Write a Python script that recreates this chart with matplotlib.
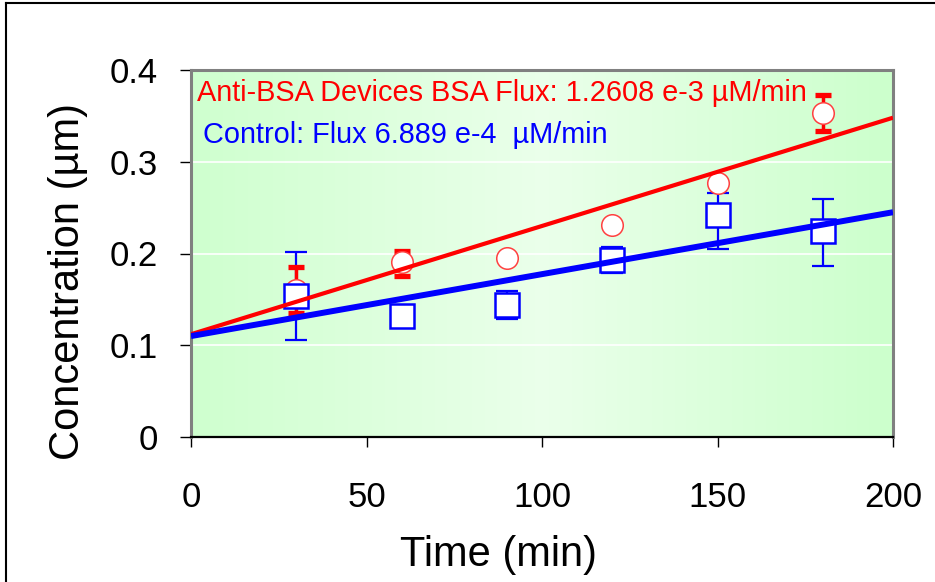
import numpy as np
import matplotlib
matplotlib.use("Agg")
import matplotlib.pyplot as plt
from matplotlib.colors import LinearSegmentedColormap
from matplotlib.lines import Line2D

plt.rcParams['font.family'] = ['Liberation Sans', 'DejaVu Sans']

# values
time = [30, 60, 90, 120, 150, 180]

anti_bsa = [0.160, 0.191, 0.195, 0.231, 0.277, 0.353]
anti_err_lo = [0.025, 0.015, 0.0, 0.0, 0.0, 0.020]
anti_err_hi = [0.025, 0.012, 0.0, 0.0, 0.0, 0.020]

control = [0.154, 0.132, 0.144, 0.193, 0.242, 0.225]
ctrl_err_lo = [0.048, 0.0, 0.015, 0.014, 0.037, 0.039]
ctrl_err_hi = [0.048, 0.0, 0.015, 0.014, 0.024, 0.034]

# trend line end points (x = 0 and x = 200)
trend_x = [0, 200]
anti_trend = [0.112, 0.348]
ctrl_trend = [0.110, 0.245]

x_ticks = [0, 50, 100, 150, 200]
y_ticks = [0, 0.1, 0.2, 0.3, 0.4]
y_tick_labels = ['0', '0.1', '0.2', '0.3', '0.4']

anti_label = 'Anti-BSA Devices BSA Flux: 1.2608 e-3 \u00b5M/min'
ctrl_label = 'Control: Flux 6.889 e-4  \u00b5M/min'

W, H = 935, 582
fig = plt.figure(figsize=(W / 100, H / 100), dpi=100)
ax = fig.add_axes([191 / W, 1 - 437 / H, (893 - 191) / W, (437 - 70) / H])

# green gradient background, lighter in the middle
cmap = LinearSegmentedColormap.from_list(
    'bg', [(0.0, (0.81, 1.0, 0.81)), (0.5, (0.92, 1.0, 0.92)), (1.0, (0.80, 1.0, 0.80))])
ax.imshow(np.linspace(0, 1, 256).reshape(1, -1), cmap=cmap, aspect='auto',
          extent=[0, 200, 0, 0.4], zorder=0, interpolation='bilinear')

for yv in y_ticks[1:-1]:
    ax.axhline(yv, color='white', lw=1.2, zorder=0.5)

# error bars
ax.errorbar(time, control, yerr=[ctrl_err_lo, ctrl_err_hi], fmt='none', ecolor='#0000ff',
            elinewidth=1.6, capsize=8, capthick=1.6, zorder=2)
ax.errorbar(time, anti_bsa, yerr=[anti_err_lo, anti_err_hi], fmt='none', ecolor='#ff0000',
            elinewidth=2.5, capsize=5.5, capthick=3.8, zorder=2.2)

# markers
ax.plot(time, anti_bsa, 'o', ms=15.5, mfc='white', mec='#ff4040', mew=1.1, zorder=3)
ax.plot(time, control, 's', ms=17.5, mfc='white', mec='#0000ff', mew=1.8, zorder=3.5)

# trend lines
ax.plot(trend_x, anti_trend, color='#ff0000', lw=3.0, zorder=4, solid_capstyle='butt')
ax.plot(trend_x, ctrl_trend, color='#0000ff', lw=4.3, zorder=4.5, solid_capstyle='butt')

ax.set_xlim(0, 200)
ax.set_ylim(0, 0.4)
ax.set_xticks(x_ticks)
ax.set_yticks(y_ticks)
ax.set_yticklabels(y_tick_labels)
ax.tick_params(axis='y', direction='out', length=8, width=1, pad=16, labelsize=25)
ax.tick_params(axis='x', direction='out', length=7.5, width=1, pad=24, labelsize=25)

for side in ['left', 'top', 'right']:
    ax.spines[side].set_color('#808080')
    ax.spines[side].set_linewidth(2.2)
ax.spines['bottom'].set_color('black')
ax.spines['bottom'].set_linewidth(1.6)

# axis titles, placed as in the reference
fig.text(499 / W, 1 - 555 / H, 'Time (min)', fontsize=30, ha='center', va='center')
fig.text(68 / W, 1 - 281 / H, 'Concentration (\u00b5m)', fontsize=30, rotation=90,
         ha='center', va='center')

# series labels inside the plot
fig.text(197 / W, 1 - 93 / H, anti_label, color='#ff0000', fontsize=20.8,
         va='center', ha='left')
fig.text(203 / W, 1 - 135 / H, ctrl_label, color='#0000ff', fontsize=20.8,
         va='center', ha='left')

# outer frame of the figure (left and top edges visible)
fig.add_artist(Line2D([5.5 / W, 5.5 / W], [0, 1 - 3 / H], color='black', lw=1.5))
fig.add_artist(Line2D([5.5 / W, 1], [1 - 3 / H, 1 - 3 / H], color='black', lw=1.5))

fig.savefig('out.png', dpi=100)
